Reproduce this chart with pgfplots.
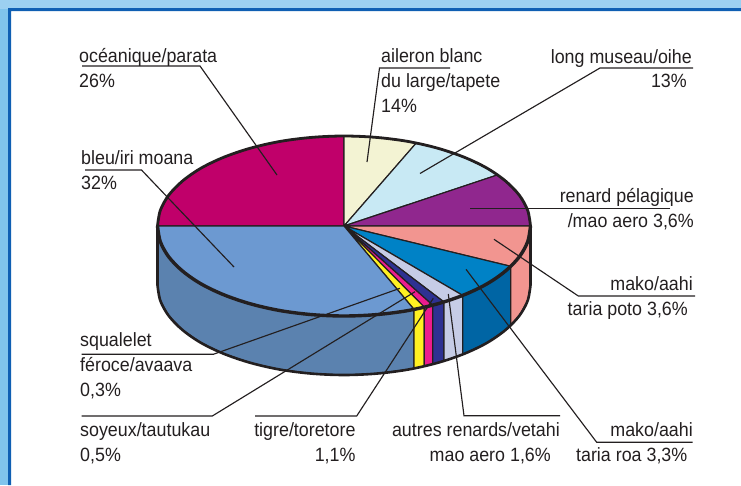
\documentclass[border=0pt]{standalone}
\usepackage{fontspec}
\setmainfont{Liberation Sans}
\usepackage{graphicx}
\usepackage{pgfplots}
\pgfplotsset{compat=1.18}

\definecolor{ink}{HTML}{231F20}
\definecolor{sky}{HTML}{80C4EC}
\definecolor{skytop}{HTML}{9CD0F1}
\definecolor{frameblue}{HTML}{0F5FB3}
\definecolor{cocean}{HTML}{C0006A}
\definecolor{ccream}{HTML}{F3F3D3}
\definecolor{clight}{HTML}{C8E9F4}
\definecolor{cpurple}{HTML}{90278E}
\definecolor{csalmon}{HTML}{F29590}
\definecolor{cmako}{HTML}{0082C6}
\definecolor{cmakod}{HTML}{0065A4}
\definecolor{clav}{HTML}{C6CCE6}
\definecolor{cnavy}{HTML}{2E3192}
\definecolor{cpink}{HTML}{EC1C8E}
\definecolor{cyel}{HTML}{FFF022}
\definecolor{cbleu}{HTML}{6C99D1}
\definecolor{cbleud}{HTML}{5B82AF}

\newcommand{\lab}[4]{\node[anchor=base #1,inner sep=0pt,text=ink] at (axis cs:#2,#3) {\scalebox{0.93}[1]{\labfont #4}};}
\newcommand{\labfont}{\fontsize{19.2}{22}\selectfont}

\begin{document}
\begin{tikzpicture}
\begin{axis}[
  scale only axis,
  width=741pt,height=485pt,
  xmin=0,xmax=741,ymin=0,ymax=485,
  y dir=reverse,
  hide axis,
  clip=true,
  wedge/.style={draw=ink,line width=1.2pt,line join=round},
  lead/.style={draw=ink,line width=1.15pt,line join=miter},
]
% frame
\addplot[fill=skytop,draw=none] coordinates {(0,0)(741,0)(741,9)(0,9)} --cycle;
\addplot[fill=sky,draw=none] coordinates {(0,9)(10,9)(10,485)(0,485)} --cycle;
\addplot[fill=frameblue,draw=none] coordinates {(8,8)(741,8)(741,11)(11,11)(11,485)(8,485)} --cycle;

% sides
\addplot[wedge,fill=cbleud] coordinates {(414,309.4)(407.8,310.6)(376.4,314.6)(344,316)(311.6,314.6)(280.2,310.6)(250.7,303.9)(224.1,294.9)(201.1,283.9)(182.5,271)(168.7,256.8)(160.3,241.6)(157.5,226)(157.5,285)(160.3,300.6)(168.7,315.8)(182.5,330)(201.1,342.9)(224.1,353.9)(250.7,362.9)(280.2,369.6)(311.6,373.6)(344,375)(376.4,373.6)(407.8,369.6)(414,368.4)} --cycle;
\addplot[wedge,fill=cyel] coordinates {(414,309.4)(424.3,307.2)(424.3,366.2)(414,368.4)} --cycle;
\addplot[wedge,fill=cpink] coordinates {(424.3,307.2)(432.7,305.2)(432.7,364.2)(424.3,366.2)} --cycle;
\addplot[wedge,fill=cnavy] coordinates {(432.7,305.2)(444,302)(444,361)(432.7,364.2)} --cycle;
\addplot[wedge,fill=clav] coordinates {(444,302)(455,298.3)(462.7,295.4)(462.7,354.4)(455,357.3)(444,361)} --cycle;
\addplot[wedge,fill=cmakod] coordinates {(462.7,295.4)(463.9,294.9)(486.9,283.9)(505.5,271)(510.7,266.3)(510.7,325.3)(505.5,330)(486.9,342.9)(463.9,353.9)(462.7,354.4)} --cycle;
\addplot[wedge,fill=csalmon] coordinates {(510.7,266.3)(519.3,256.8)(527.7,241.6)(530.5,226)(530.5,285)(527.7,300.6)(519.3,315.8)(510.7,325.3)} --cycle;

% top
\addplot[wedge,fill=cocean] coordinates {(344,226)(157.5,226)(160.3,210.4)(168.7,195.2)(182.5,181)(201.1,168.1)(224.1,157.1)(250.7,148.1)(280.2,141.4)(311.6,137.4)(344,136)} --cycle;
\addplot[wedge,fill=ccream] coordinates {(344,226)(344,136)(376.4,137.4)(407.8,141.4)(416,143.3)} --cycle;
\addplot[wedge,fill=clight] coordinates {(344,226)(416,143.3)(437.3,148.1)(463.9,157.1)(486.9,168.1)(497.3,175)} --cycle;
\addplot[wedge,fill=cpurple] coordinates {(344,226)(497.3,175)(505.5,181)(519.3,195.2)(527.7,210.4)(530.5,226)} --cycle;
\addplot[wedge,fill=csalmon] coordinates {(344,226)(530.5,226)(527.7,241.6)(519.3,256.8)(510.7,266.3)} --cycle;
\addplot[wedge,fill=cmako] coordinates {(344,226)(510.7,266.3)(505.5,271)(486.9,283.9)(463.9,294.9)(462.7,295.4)} --cycle;
\addplot[wedge,fill=clav] coordinates {(344,226)(462.7,295.4)(455,298.3)(444,302)} --cycle;
\addplot[wedge,fill=cnavy] coordinates {(344,226)(444,302)(432.7,305.2)} --cycle;
\addplot[wedge,fill=cpink] coordinates {(344,226)(432.7,305.2)(424.3,307.2)} --cycle;
\addplot[wedge,fill=cyel] coordinates {(344,226)(424.3,307.2)(414,309.4)} --cycle;
\addplot[wedge,fill=cbleu] coordinates {(344,226)(414,309.4)(407.8,310.6)(376.4,314.6)(344,316)(311.6,314.6)(280.2,310.6)(250.7,303.9)(224.1,294.9)(201.1,283.9)(182.5,271)(168.7,256.8)(160.3,241.6)(157.5,226)} --cycle;

% rims
\addplot[smooth,tension=0.55,draw=ink,line width=2.8pt] coordinates {(157.5,226)(160.3,210.4)(168.7,195.2)(182.5,181)(201.1,168.1)(224.1,157.1)(250.7,148.1)(280.2,141.4)(311.6,137.4)(344,136)(376.4,137.4)(407.8,141.4)(437.3,148.1)(463.9,157.1)(486.9,168.1)(505.5,181)(519.3,195.2)(527.7,210.4)(530.5,226)};
\addplot[smooth,tension=0.55,draw=ink,line width=3.4pt] coordinates {(530.5,226)(527.7,241.6)(519.3,256.8)(505.5,271)(486.9,283.9)(463.9,294.9)(437.3,303.9)(407.8,310.6)(376.4,314.6)(344,316)(311.6,314.6)(280.2,310.6)(250.7,303.9)(224.1,294.9)(201.1,283.9)(182.5,271)(168.7,256.8)(160.3,241.6)(157.5,226)};
\addplot[smooth,tension=0.55,draw=ink,line width=2.6pt] coordinates {(157.5,285)(160.3,300.6)(168.7,315.8)(182.5,330)(201.1,342.9)(224.1,353.9)(250.7,362.9)(280.2,369.6)(311.6,373.6)(344,375)(376.4,373.6)(407.8,369.6)(437.3,362.9)(463.9,353.9)(486.9,342.9)(505.5,330)(519.3,315.8)(527.7,300.6)(530.5,285)};
\addplot[draw=ink,line width=2.2pt] coordinates {(157.5,226)(157.5,285)};
\addplot[draw=ink,line width=2.2pt] coordinates {(530.5,226)(530.5,285)};

% leader lines
\addplot[lead] coordinates {(82,66)(200,66)(277,175)};
\addplot[lead] coordinates {(85,170)(141.5,170)(234,267)};
\addplot[lead] coordinates {(450,68)(379.5,68)(367,162)};
\addplot[lead] coordinates {(693,68)(600,68)(420,173.5)};
\addplot[lead] coordinates {(670,208.3)(470,208.3)};
\addplot[lead] coordinates {(695,296)(578.3,296)(494,239.3)};
\addplot[lead] coordinates {(692.7,442.3)(596.7,442.3)(466,269.3)};
\addplot[lead] coordinates {(560,415.7)(464,415.7)(448.3,294)};
\addplot[lead] coordinates {(255,416)(356.7,416)(433.3,298.3)};
\addplot[lead] coordinates {(81.7,416)(212.3,416)(415,291.7)};
\addplot[lead] coordinates {(81.7,354.3)(213.3,354.3)(400,288.3)};

% labels
\lab{west}{79}{62}{océanique/parata}
\lab{west}{79}{87}{26\%}
\lab{west}{81}{164.3}{bleu/iri moana}
\lab{west}{81}{189.3}{32\%}
\lab{west}{381}{62.3}{aileron blanc}
\lab{west}{381}{87.3}{du large/tapete}
\lab{west}{381}{112.3}{14\%}
\lab{east}{692}{63}{long museau/oihe}
\lab{east}{687}{87.7}{13\%}
\lab{east}{694}{202.3}{renard pélagique}
\lab{east}{694}{227.3}{/mao aero 3,6\%}
\lab{east}{693}{290}{mako/aahi}
\lab{east}{688}{315}{taria poto 3,6\%}
\lab{east}{560}{436.7}{autres renards/vetahi}
\lab{east}{551}{461.7}{mao aero 1,6\%}
\lab{east}{693}{436}{mako/aahi}
\lab{east}{687.5}{461.7}{taria roa 3,3\%}
\lab{east}{355.7}{436.7}{tigre/toretore}
\lab{east}{355.7}{461.7}{1,1\%}
\lab{west}{80}{436.7}{soyeux/tautukau}
\lab{west}{80}{461.7}{0,5\%}
\lab{west}{80}{346}{squalelet}
\lab{west}{80}{371.7}{féroce/avaava}
\lab{west}{80}{396.7}{0,3\%}
\end{axis}
\end{tikzpicture}
\end{document}
